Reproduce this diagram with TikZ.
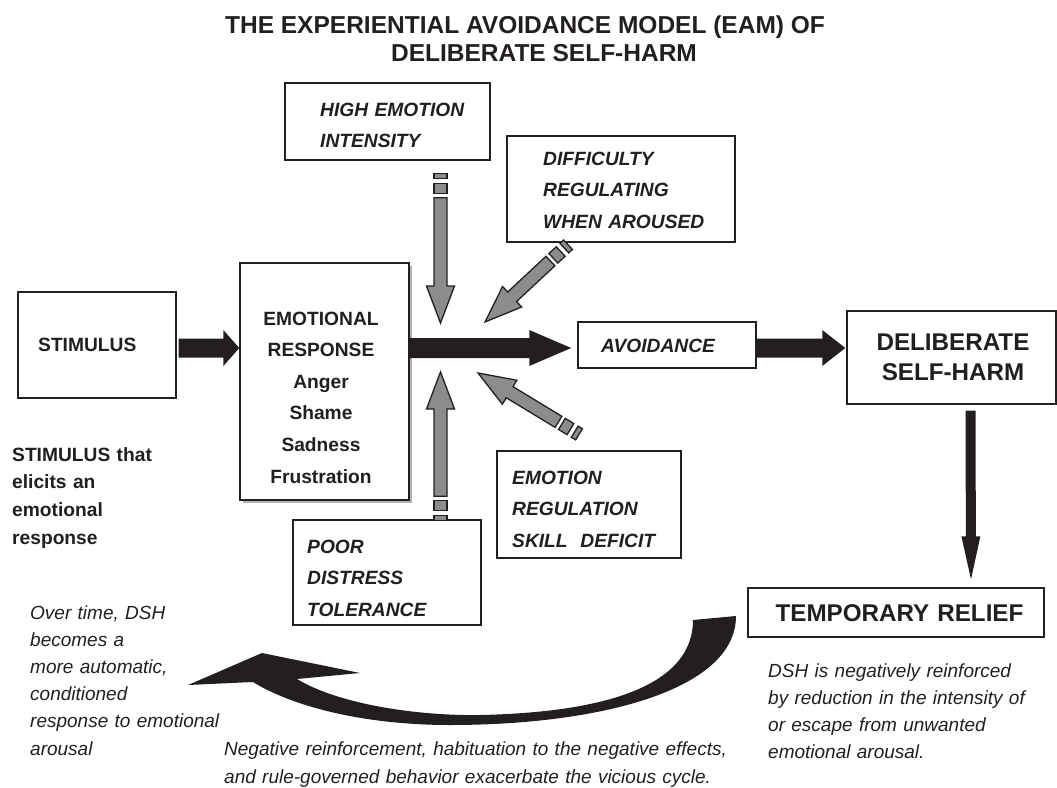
\documentclass[tikz,border=0pt]{standalone}
\usepackage{fontspec}
\setmainfont{Liberation Sans}
\usetikzlibrary{calc,shadows}
\definecolor{ink}{HTML}{231F20}
\definecolor{midgray}{HTML}{8C8C8C}

% angle and length of the segment from #1 to #2
\newcommand{\arrowframe}[2]{%
  \path let \p1=($(#2)-(#1)$) in \pgfextra{%
    \pgfmathparse{atan2(\y1,\x1)}\xdef\arrang{\pgfmathresult}%
    \pgfmathparse{veclen(\x1,\y1)}\xdef\arrlen{\pgfmathresult}};}

% solid block arrow: from, to, shaft half width, head half width, head length
\newcommand{\solidarrow}[5]{%
  \arrowframe{#1}{#2}%
  \begin{scope}[shift={(#1)}, rotate=\arrang]
    \fill[ink] (0,-#3) -- ({\arrlen-#5},-#3) -- ({\arrlen-#5},-#4) -- (\arrlen,0)
      -- ({\arrlen-#5},#4) -- ({\arrlen-#5},#3) -- (0,#3) -- cycle;
  \end{scope}}

% grey block arrow with a broken tail: tail, tip
\newcommand{\brokenarrow}[2]{%
  \arrowframe{#1}{#2}%
  \begin{scope}[shift={(#1)}, rotate=\arrang]
    \draw[gray arrow] (0,-6.5) rectangle (5,6.5);
    \draw[gray arrow] (10,-6.5) rectangle (20,6.5);
    \draw[gray arrow] (24,-6.5) -- ({\arrlen-37},-6.5) -- ({\arrlen-37},-14) -- (\arrlen,0)
      -- ({\arrlen-37},14) -- ({\arrlen-37},6.5) -- (24,6.5) -- cycle;
  \end{scope}}

\tikzset{
  box/.style={draw=ink, line width=1.4pt, fill=white, inner sep=0pt},
  gray arrow/.style={draw=ink, fill=midgray, line width=1.3pt, line join=miter},
  headline/.style={font=\fontsize{24.5}{28}\selectfont\bfseries, text=ink, inner sep=0pt},
  boxfont/.style={font=\fontsize{19.2}{31.6}\selectfont\bfseries, text=ink, inner sep=0pt, text width=300pt},
  boxitfont/.style={font=\fontsize{19.2}{31.8}\selectfont\bfseries\itshape, text=ink, inner sep=0pt, text width=300pt, align=left},
  bigfont/.style={font=\fontsize{24.2}{30}\selectfont\bfseries, text=ink, inner sep=0pt, text width=300pt, align=center},
  notebold/.style={font=\fontsize{19.2}{27.7}\selectfont\bfseries, text=ink, inner sep=0pt, text width=300pt, align=left},
  noteit/.style={font=\fontsize{19}{27.2}\selectfont\itshape, text=ink, inner sep=0pt, text width=600pt, align=left}
}

\begin{document}
\begin{tikzpicture}[x=1pt,y=-1pt]
\useasboundingbox (0,0) rectangle (1057,787);

% title
\node[headline, anchor=base] (title1) at (525,33) {THE EXPERIENTIAL AVOIDANCE MODEL (EAM) OF};
\node[headline, anchor=base] (title2) at (544,61) {DELIBERATE SELF-HARM};

% boxes
\node[box, minimum width=158pt, minimum height=106pt] (stim) at (97,345) {};
\node[box, drop shadow={shadow xshift=3pt, shadow yshift=-3pt, fill=black!30, opacity=1},
      minimum width=169pt, minimum height=237pt] (emo) at (324.5,381.5) {};
\node[box, minimum width=205pt, minimum height=77pt] (hei) at (387.5,121.5) {};
\node[box, minimum width=228pt, minimum height=106pt] (dif) at (621,189) {};
\node[box, minimum width=178pt, minimum height=46pt] (avo) at (667,345) {};
\node[box, minimum width=209pt, minimum height=93pt] (dsh) at (951.5,357.5) {};
\node[box, minimum width=184pt, minimum height=107pt] (erd) at (589,504.5) {};
\node[box, minimum width=188pt, minimum height=105pt] (pdt) at (387,572.5) {};
\node[box, minimum width=296pt, minimum height=49pt] (tr) at (896,612.5) {};

% box texts
\node[boxfont, align=left, anchor=base west] (stim-t) at (38,351) {STIMULUS};
\node[boxfont, align=center, anchor=base] (emo-t) at (321,325)
  {EMOTIONAL\\RESPONSE\\Anger\\Shame\\Sadness\\Frustration};
\node[boxitfont, anchor=base west] (hei-t) at (320,116) {HIGH EMOTION\\INTENSITY};
\node[boxitfont, anchor=base west] (dif-t) at (543,165) {DIFFICULTY\\REGULATING\\WHEN AROUSED};
\node[boxitfont, anchor=base west] (avo-t) at (601,352) {AVOIDANCE};
\node[bigfont, anchor=base] (dsh-t) at (953,350.6) {DELIBERATE\\SELF-HARM};
\node[boxitfont, anchor=base west] (erd-t) at (512,484) {EMOTION\\REGULATION\\SKILL\ \ DEFICIT};
\node[boxitfont, anchor=base west] (pdt-t) at (307,553) {POOR\\DISTRESS\\TOLERANCE};
\node[bigfont, anchor=base] (tr-t) at (899.5,621) {TEMPORARY RELIEF};

% free notes
\node[notebold, anchor=base west] (note-stim) at (12,461)
  {STIMULUS that\\elicits an\\emotional\\response};
\node[noteit, anchor=base west] (note-time) at (30,619)
  {Over time, DSH\\becomes a\\more automatic,\\conditioned\\response to emotional\\arousal};
\node[noteit, font=\fontsize{19}{28}\selectfont\itshape, anchor=base west] (note-cycle) at (224,755)
  {Negative reinforcement, habituation to the negative effects,\\and rule-governed behavior exacerbate the vicious cycle.};
\node[noteit, anchor=base west] (note-relief) at (768,677)
  {DSH is negatively reinforced\\by reduction in the intensity of\\or escape from unwanted\\emotional arousal.};

% main chain of black arrows
\coordinate (axis) at (0,348);
\coordinate (a1s) at ($(stim.east |- axis)+(2,0)$);
\coordinate (a1e) at (emo.west |- axis);
\coordinate (a2s) at (emo.east |- axis);
\coordinate (a2e) at ($(avo.west |- axis)+(-6,0)$);
\coordinate (a3s) at (avo.east |- axis);
\coordinate (a3e) at ($(dsh.west |- axis)+(-1,0)$);
\coordinate (a4s) at ($(dsh.south)+(19,6)$);
\coordinate (a4e) at ($(tr.north)+(75,-8)$);
\solidarrow{a1s}{a1e}{9.5}{18}{16}
\solidarrow{a2s}{a2e}{10}{18}{42}
\solidarrow{a3s}{a3e}{9.5}{18}{23}
\solidarrow{a4s}{a4e}{5}{9.5}{43}

% grey influence arrows
\coordinate (g1a) at ($(hei.south)+(53,13)$);
\coordinate (g1b) at (440.5,323);
\coordinate (g2a) at ($(pdt.north)+(53.5,1)$);
\coordinate (g2b) at (440.5,372);
\coordinate (g3a) at ($(dif.south)+(-53,2)$);
\coordinate (g3b) at (485,322);
\coordinate (g4a) at ($(erd.north)+(-10,-16)$);
\coordinate (g4b) at (478,373);
\brokenarrow{g1a}{g1b}
\brokenarrow{g2a}{g2b}
\brokenarrow{g3a}{g3b}
\brokenarrow{g4a}{g4b}

% curved return arrow
\fill[ink] (736,616) .. controls (736,690) and (600,725) .. (450,725)
  .. controls (360,725) and (290,705) .. (253,682)
  -- (188,685) -- (262,653) -- (360,673) -- (297,679)
  .. controls (340,705) and (420,716) .. (480,715)
  .. controls (620,712) and (693,680) .. (693,620) -- cycle;
\end{tikzpicture}
\end{document}
